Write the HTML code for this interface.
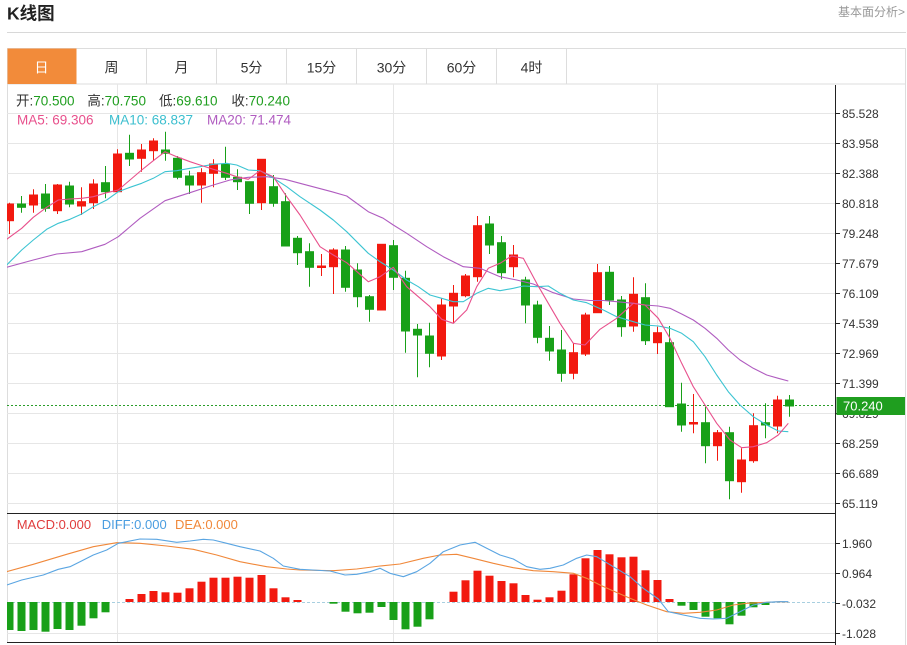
<!DOCTYPE html>
<html><head><meta charset="utf-8">
<style>
html,body{margin:0;padding:0;background:#fff;}
body{width:907px;height:645px;overflow:hidden;}
svg{display:block;font-family:"Liberation Sans","Noto Sans CJK SC",sans-serif;}
</style></head>
<body>
<svg width="907" height="645" viewBox="0 0 907 645" xmlns="http://www.w3.org/2000/svg">
<defs>
<clipPath id="plot"><rect x="7" y="84" width="828" height="430"/></clipPath>
<clipPath id="plot2"><rect x="7" y="514" width="828" height="129"/></clipPath>
</defs>
<!-- header -->
<text x="7" y="19.5" font-size="17.5" font-weight="bold" fill="#222">K线图</text>
<text x="905" y="16" font-size="12" fill="#999" text-anchor="end">基本面分析&gt;</text>
<line x1="7" y1="32.5" x2="906" y2="32.5" stroke="#d8d8d8"/>

<!-- tab bar -->
<rect x="7.5" y="48.5" width="898" height="35.5" fill="#fff" stroke="#ddd"/>
<rect x="7.5" y="48.5" width="69" height="35.5" fill="#f28b3a"/>
<g stroke="#ddd">
<line x1="146.5" y1="48" x2="146.5" y2="84"/>
<line x1="216.5" y1="48" x2="216.5" y2="84"/>
<line x1="286.5" y1="48" x2="286.5" y2="84"/>
<line x1="356.5" y1="48" x2="356.5" y2="84"/>
<line x1="426.5" y1="48" x2="426.5" y2="84"/>
<line x1="496.5" y1="48" x2="496.5" y2="84"/>
<line x1="566.5" y1="48" x2="566.5" y2="84"/>
</g>
<g font-size="14" text-anchor="middle" fill="#333">
<text x="41.5" y="72.5" fill="#fff">日</text>
<text x="111.5" y="72.5">周</text>
<text x="181.5" y="72.5">月</text>
<text x="251.5" y="72.5">5分</text>
<text x="321.5" y="72.5">15分</text>
<text x="391.5" y="72.5">30分</text>
<text x="461.5" y="72.5">60分</text>
<text x="531.5" y="72.5">4时</text>
</g>

<!-- frame -->
<line x1="7.5" y1="84" x2="7.5" y2="643" stroke="#ddd"/>
<line x1="905.5" y1="84" x2="905.5" y2="645" stroke="#ddd"/>

<!-- grid main -->
<g stroke="#e6e6e6">
<line x1="7" y1="113.5" x2="835" y2="113.5"/>
<line x1="7" y1="143.5" x2="835" y2="143.5"/>
<line x1="7" y1="173.5" x2="835" y2="173.5"/>
<line x1="7" y1="203.5" x2="835" y2="203.5"/>
<line x1="7" y1="233.5" x2="835" y2="233.5"/>
<line x1="7" y1="263.5" x2="835" y2="263.5"/>
<line x1="7" y1="293.5" x2="835" y2="293.5"/>
<line x1="7" y1="323.5" x2="835" y2="323.5"/>
<line x1="7" y1="353.5" x2="835" y2="353.5"/>
<line x1="7" y1="383.5" x2="835" y2="383.5"/>
<line x1="7" y1="413.5" x2="835" y2="413.5"/>
<line x1="7" y1="443.5" x2="835" y2="443.5"/>
<line x1="7" y1="473.5" x2="835" y2="473.5"/>
<line x1="7" y1="503.5" x2="835" y2="503.5"/>
<line x1="117.5" y1="84" x2="117.5" y2="643"/>
<line x1="393.5" y1="84" x2="393.5" y2="643"/>
<line x1="657.5" y1="84" x2="657.5" y2="643"/>
<line x1="7" y1="543.5" x2="835" y2="543.5"/>
<line x1="7" y1="573.5" x2="835" y2="573.5"/>
<line x1="7" y1="633.5" x2="835" y2="633.5"/>
</g>

<!-- legend -->
<g font-size="13.5">
<text x="16" y="105.7"><tspan fill="#333">开:</tspan><tspan fill="#1f9e1f">70.500</tspan></text>
<text x="87.4" y="105.7"><tspan fill="#333">高:</tspan><tspan fill="#1f9e1f">70.750</tspan></text>
<text x="159" y="105.7"><tspan fill="#333">低:</tspan><tspan fill="#1f9e1f">69.610</tspan></text>
<text x="231.4" y="105.7"><tspan fill="#333">收:</tspan><tspan fill="#1f9e1f">70.240</tspan></text>
<text x="17" y="124.3" fill="#e8508c">MA5: 69.306</text>
<text x="109" y="124.3" fill="#3cbfcf">MA10: 68.837</text>
<text x="207" y="124.3" fill="#b05cc0">MA20: 71.474</text>
</g>
<g font-size="13">
<text x="16.7" y="529" fill="#e03c3c">MACD:0.000</text>
<text x="101.7" y="529" fill="#4a9de0">DIFF:0.000</text>
<text x="175" y="529" fill="#f0883a">DEA:0.000</text>
</g>

<!-- current price dotted -->
<line x1="7" y1="405.5" x2="835" y2="405.5" stroke="#2a9d2a" stroke-dasharray="2,2"/>

<!-- candles -->
<g clip-path="url(#plot)">
<g stroke="#f2190f" fill="#f2190f">
<line x1="9.5" y1="202.7" x2="9.5" y2="234"/><rect x="5.5" y="204" width="8" height="16.7"/>
<line x1="33.5" y1="189.3" x2="33.5" y2="212.7"/><rect x="29.5" y="195" width="8" height="10"/>
<line x1="57.5" y1="184" x2="57.5" y2="214"/><rect x="53.5" y="185" width="8" height="25.7"/>
<line x1="81.5" y1="187.3" x2="81.5" y2="215"/><rect x="77.5" y="201.7" width="8" height="4.3"/>
<line x1="93.5" y1="179.3" x2="93.5" y2="209"/><rect x="89.5" y="184" width="8" height="18.7"/>
<line x1="117.5" y1="149.3" x2="117.5" y2="191.7"/><rect x="113.5" y="154" width="8" height="37.7"/>
<line x1="141.5" y1="144" x2="141.5" y2="171.7"/><rect x="137.5" y="150" width="8" height="8.3"/>
<line x1="153.5" y1="138.3" x2="153.5" y2="160.7"/><rect x="149.5" y="141" width="8" height="9.7"/>
<line x1="201.5" y1="168.3" x2="201.5" y2="202.7"/><rect x="197.5" y="172.7" width="8" height="12.3"/>
<line x1="213.5" y1="159.3" x2="213.5" y2="187.3"/><rect x="209.5" y="164" width="8" height="9.3"/>
<line x1="261.5" y1="159.3" x2="261.5" y2="210"/><rect x="257.5" y="159.3" width="8" height="43.4"/>
<line x1="321.5" y1="254" x2="321.5" y2="276"/><rect x="317.5" y="266" width="8" height="1.5"/>
<line x1="333.5" y1="248.3" x2="333.5" y2="294"/><rect x="329.5" y="250" width="8" height="16.7"/>
<line x1="381.5" y1="244" x2="381.5" y2="310"/><rect x="377.5" y="244.3" width="8" height="65.7"/>
<line x1="441.5" y1="298.3" x2="441.5" y2="360"/><rect x="437.5" y="305" width="8" height="51"/>
<line x1="453.5" y1="285" x2="453.5" y2="322.7"/><rect x="449.5" y="293.3" width="8" height="12.7"/>
<line x1="465.5" y1="274" x2="465.5" y2="297.3"/><rect x="461.5" y="276" width="8" height="19.7"/>
<line x1="477.5" y1="216" x2="477.5" y2="281.7"/><rect x="473.5" y="225.7" width="8" height="51"/>
<line x1="513.5" y1="245" x2="513.5" y2="277.3"/><rect x="509.5" y="255" width="8" height="11.7"/>
<line x1="573.5" y1="343.3" x2="573.5" y2="379.3"/><rect x="569.5" y="352.7" width="8" height="20.6"/>
<line x1="585.5" y1="312.7" x2="585.5" y2="356"/><rect x="581.5" y="315" width="8" height="39"/>
<line x1="597.5" y1="264" x2="597.5" y2="312.7"/><rect x="593.5" y="272.7" width="8" height="40"/>
<line x1="633.5" y1="277.3" x2="633.5" y2="331.7"/><rect x="629.5" y="294.3" width="8" height="31.7"/>
<line x1="657.5" y1="326.7" x2="657.5" y2="354"/><rect x="653.5" y="332.7" width="8" height="10"/>
<line x1="693.5" y1="394" x2="693.5" y2="433.3"/><rect x="689.5" y="422.5" width="8" height="1.5"/>
<line x1="717.5" y1="430" x2="717.5" y2="460.7"/><rect x="713.5" y="432.7" width="8" height="13"/>
<line x1="741.5" y1="448.3" x2="741.5" y2="492.7"/><rect x="737.5" y="460" width="8" height="21.7"/>
<line x1="753.5" y1="413.3" x2="753.5" y2="462.7"/><rect x="749.5" y="425.7" width="8" height="35"/>
<line x1="777.5" y1="395.7" x2="777.5" y2="433.3"/><rect x="773.5" y="400" width="8" height="26"/>
</g>
<g stroke="#18a018" fill="#18a018">
<line x1="21.5" y1="196" x2="21.5" y2="212.7"/><rect x="17.5" y="204" width="8" height="3.3"/>
<line x1="45.5" y1="184" x2="45.5" y2="211.7"/><rect x="41.5" y="194" width="8" height="14.3"/>
<line x1="69.5" y1="181.7" x2="69.5" y2="207.3"/><rect x="65.5" y="186" width="8" height="18"/>
<line x1="105.5" y1="166" x2="105.5" y2="198.3"/><rect x="101.5" y="182.7" width="8" height="9"/>
<line x1="129.5" y1="134.7" x2="129.5" y2="166"/><rect x="125.5" y="153.3" width="8" height="5.7"/>
<line x1="165.5" y1="131.7" x2="165.5" y2="160.7"/><rect x="161.5" y="150" width="8" height="3.3"/>
<line x1="177.5" y1="156" x2="177.5" y2="179.3"/><rect x="173.5" y="158.3" width="8" height="19"/>
<line x1="189.5" y1="170.7" x2="189.5" y2="194"/><rect x="185.5" y="176" width="8" height="9"/>
<line x1="225.5" y1="146.7" x2="225.5" y2="180"/><rect x="221.5" y="164" width="8" height="13.3"/>
<line x1="237.5" y1="169.3" x2="237.5" y2="190"/><rect x="233.5" y="177.3" width="8" height="4.4"/>
<line x1="249.5" y1="181.7" x2="249.5" y2="214"/><rect x="245.5" y="181.7" width="8" height="21.6"/>
<line x1="273.5" y1="175" x2="273.5" y2="206.7"/><rect x="269.5" y="186.7" width="8" height="16.6"/>
<line x1="285.5" y1="193.3" x2="285.5" y2="246"/><rect x="281.5" y="201.7" width="8" height="44.3"/>
<line x1="297.5" y1="236" x2="297.5" y2="265"/><rect x="293.5" y="238.3" width="8" height="14.4"/>
<line x1="309.5" y1="243.3" x2="309.5" y2="286.7"/><rect x="305.5" y="251.7" width="8" height="15.6"/>
<line x1="345.5" y1="246" x2="345.5" y2="291.7"/><rect x="341.5" y="250" width="8" height="37.3"/>
<line x1="357.5" y1="263.3" x2="357.5" y2="307.3"/><rect x="353.5" y="270" width="8" height="26.7"/>
<line x1="369.5" y1="295" x2="369.5" y2="321.7"/><rect x="365.5" y="296.7" width="8" height="12.6"/>
<line x1="393.5" y1="240" x2="393.5" y2="290"/><rect x="389.5" y="245.7" width="8" height="31.6"/>
<line x1="405.5" y1="270.7" x2="405.5" y2="352.7"/><rect x="401.5" y="278.3" width="8" height="52.7"/>
<line x1="417.5" y1="324" x2="417.5" y2="377.3"/><rect x="413.5" y="329.3" width="8" height="5.7"/>
<line x1="429.5" y1="322.7" x2="429.5" y2="367.3"/><rect x="425.5" y="336" width="8" height="17.3"/>
<line x1="489.5" y1="216" x2="489.5" y2="254"/><rect x="485.5" y="224" width="8" height="21"/>
<line x1="501.5" y1="236" x2="501.5" y2="279.3"/><rect x="497.5" y="242.7" width="8" height="30"/>
<line x1="525.5" y1="276.7" x2="525.5" y2="323.3"/><rect x="521.5" y="280" width="8" height="25"/>
<line x1="537.5" y1="300.7" x2="537.5" y2="343.3"/><rect x="533.5" y="305" width="8" height="32.3"/>
<line x1="549.5" y1="326" x2="549.5" y2="360.7"/><rect x="545.5" y="338.3" width="8" height="12.7"/>
<line x1="561.5" y1="330" x2="561.5" y2="381.7"/><rect x="557.5" y="350" width="8" height="23.3"/>
<line x1="609.5" y1="266" x2="609.5" y2="305"/><rect x="605.5" y="272.3" width="8" height="27.7"/>
<line x1="621.5" y1="296" x2="621.5" y2="336.7"/><rect x="617.5" y="300" width="8" height="26.7"/>
<line x1="645.5" y1="283.3" x2="645.5" y2="345"/><rect x="641.5" y="297.7" width="8" height="43"/>
<line x1="669.5" y1="326" x2="669.5" y2="406.7"/><rect x="665.5" y="342.7" width="8" height="64"/>
<line x1="681.5" y1="382.7" x2="681.5" y2="431.7"/><rect x="677.5" y="404" width="8" height="21"/>
<line x1="705.5" y1="406.7" x2="705.5" y2="463.3"/><rect x="701.5" y="422.7" width="8" height="23"/>
<line x1="729.5" y1="426.7" x2="729.5" y2="499.3"/><rect x="725.5" y="432.7" width="8" height="48"/>
<line x1="765.5" y1="403.3" x2="765.5" y2="438.3"/><rect x="761.5" y="422.7" width="8" height="2.3"/>
<line x1="789.5" y1="395" x2="789.5" y2="416.7"/><rect x="785.5" y="400" width="8" height="6"/>
</g>

<!-- MA lines -->
<g fill="none" stroke-width="1.1" stroke-linejoin="round">
<polyline stroke="#b05cc0" points="6.7,267.3 33.3,260 56.7,254 81.7,251.7 105,244.3 118.3,236.7 140,218.3 165,200.7 190,192.7 213.3,185 230,180 248.3,177.3 266.7,176.7 285,179.3 300,183.3 331.7,191.7 346.7,196 368.3,211.7 383.3,218.3 393.3,225 406.7,233.3 426.7,246.7 443.3,256.7 463.3,266.7 480,268.3 500,276.7 516.7,280 533.3,284 553.3,292.7 573.3,299 590,300.5 603.3,300.5 616.7,301.7 633.3,303.3 645,305 658.3,306 670,308.3 681.7,314 693.3,320 705,328.3 716.7,338.3 728.3,350 740,360 753.3,368.3 766.7,375 778.3,378.3 788.3,381"/>
<polyline stroke="#3cc4d2" points="6.7,265 21.7,250 33.3,240 46.7,229.3 58.3,223.3 70,219.3 81.7,214 93.3,206.7 106.7,200 118.3,191.7 130,187.3 141.7,183.3 153.3,178.3 165,171.7 176.7,170.7 190,168.3 200,166.7 213.3,164.3 226.7,163.3 236.7,165 248.3,170 260,170.7 273.3,178 286.7,186.7 300,196.7 320,210 333.3,220 346.7,231.7 368.3,253.3 380,261.7 393.3,270 406.7,280 418.3,286.7 430,295 441.7,298.3 453.3,301.7 463.3,301.7 476.7,293.3 488.3,288.3 500,290.7 513.3,288.3 523.3,286 536.7,286.7 548.3,286 560,293.3 573.3,300 586.7,302.7 603.3,310 616.7,316.7 633.3,321.7 645,325 658.3,326 670,328.3 681.7,333.3 693.3,341.7 705,356.7 716.7,375 728.3,391.7 740,405 753.3,416.7 766.7,425 778.3,431 788.3,431.7"/>
<polyline stroke="#e8508c" points="6.7,239.3 21.7,228.3 33.3,217.3 46.7,207.3 58.3,200 70,199 81.7,198.3 93.3,196.7 106.7,192.7 118.3,190 130,180 141.7,170 153.3,160.7 165,151.7 176.7,156.7 190,161.7 200,165 213.3,169.3 226.7,173.3 236.7,176.7 248.3,179.3 260,170.7 273.3,176.7 286.7,196.7 300,215 320,246.7 333.3,255 346.7,262.7 368.3,281.7 380,276.7 393.3,267.3 406.7,286.7 418.3,296.7 430,306.7 441.7,319.3 453.3,323.3 466.7,310 476.7,286.7 488.3,268.3 500,263.3 511.7,256 523.3,258.3 536.7,283.3 548.3,303.3 560,323.3 573.3,343.3 585,345 600,329.3 616.7,318.3 633.3,303.3 645,305 658.3,318.3 670,338.3 681.7,363.3 693.3,386.7 705,405 716.7,423.3 730,440 741.7,447.7 753.3,446.7 766.7,442.7 778.3,435 788.3,423.3"/>
</g>
</g>

<!-- MACD panel -->
<line x1="7" y1="602.5" x2="835" y2="602.5" stroke="#a8cfe0" stroke-dasharray="3,2"/>
<g clip-path="url(#plot2)">
<g fill="#18a018">
<rect x="5.5" y="602" width="8" height="28"/>
<rect x="17.5" y="602" width="8" height="29"/>
<rect x="29.5" y="602" width="8" height="28"/>
<rect x="41.5" y="602" width="8" height="29.7"/>
<rect x="53.5" y="602" width="8" height="27"/>
<rect x="65.5" y="602" width="8" height="28"/>
<rect x="77.5" y="602" width="8" height="23.7"/>
<rect x="89.5" y="602" width="8" height="16.3"/>
<rect x="101.5" y="602" width="8" height="10.3"/>
<rect x="329.5" y="602" width="8" height="1.7"/>
<rect x="341.5" y="602" width="8" height="9.7"/>
<rect x="353.5" y="602" width="8" height="11.3"/>
<rect x="365.5" y="602" width="8" height="10.7"/>
<rect x="377.5" y="602" width="8" height="5"/>
<rect x="389.5" y="602" width="8" height="18"/>
<rect x="401.5" y="602" width="8" height="27.3"/>
<rect x="413.5" y="602" width="8" height="24.7"/>
<rect x="425.5" y="602" width="8" height="17.3"/>
<rect x="677.5" y="602" width="8" height="3.7"/>
<rect x="689.5" y="602" width="8" height="8"/>
<rect x="701.5" y="602" width="8" height="14.7"/>
<rect x="713.5" y="602" width="8" height="16.3"/>
<rect x="725.5" y="602" width="8" height="22.3"/>
<rect x="737.5" y="602" width="8" height="13.7"/>
<rect x="749.5" y="602" width="8" height="5.3"/>
<rect x="761.5" y="602" width="8" height="3"/>
</g>
<g fill="#f2190f">
<rect x="125.5" y="599" width="8" height="3"/>
<rect x="137.5" y="594" width="8" height="8"/>
<rect x="149.5" y="591" width="8" height="11"/>
<rect x="161.5" y="592.3" width="8" height="9.7"/>
<rect x="173.5" y="592.7" width="8" height="9.3"/>
<rect x="185.5" y="588.3" width="8" height="13.7"/>
<rect x="197.5" y="581.7" width="8" height="20.3"/>
<rect x="209.5" y="577.7" width="8" height="24.3"/>
<rect x="221.5" y="577.7" width="8" height="24.3"/>
<rect x="233.5" y="576.7" width="8" height="25.3"/>
<rect x="245.5" y="577.7" width="8" height="24.3"/>
<rect x="257.5" y="575" width="8" height="27"/>
<rect x="269.5" y="588.3" width="8" height="13.7"/>
<rect x="281.5" y="597.3" width="8" height="4.7"/>
<rect x="293.5" y="600" width="8" height="2"/>
<rect x="449.5" y="591.7" width="8" height="10.3"/>
<rect x="461.5" y="580.3" width="8" height="21.7"/>
<rect x="473.5" y="570.7" width="8" height="31.3"/>
<rect x="485.5" y="575.7" width="8" height="26.3"/>
<rect x="497.5" y="581" width="8" height="21"/>
<rect x="509.5" y="583.3" width="8" height="18.7"/>
<rect x="521.5" y="595" width="8" height="7"/>
<rect x="533.5" y="599.7" width="8" height="2.3"/>
<rect x="545.5" y="597.3" width="8" height="4.7"/>
<rect x="557.5" y="590.7" width="8" height="11.3"/>
<rect x="569.5" y="574.3" width="8" height="27.7"/>
<rect x="581.5" y="558.3" width="8" height="43.7"/>
<rect x="593.5" y="550" width="8" height="52"/>
<rect x="605.5" y="554.3" width="8" height="47.7"/>
<rect x="617.5" y="557.3" width="8" height="44.7"/>
<rect x="629.5" y="556.7" width="8" height="45.3"/>
<rect x="641.5" y="570.3" width="8" height="31.7"/>
<rect x="653.5" y="580" width="8" height="22"/>
<rect x="665.5" y="599" width="8" height="3"/>
</g>
<g fill="none" stroke-width="1.1" stroke-linejoin="round">
<polyline stroke="#f0883a" points="6.7,571.7 33.3,564.3 66.7,554.3 93.3,546.7 116.7,542.7 140,543.3 166.7,546 193.3,549.3 216.7,555 240,561.7 266.7,566.7 286.7,569 300,570 333.3,570.7 356.7,569 380,566 400,564 423.3,558.3 440,555 456.7,554.3 473.3,558.3 493.3,563.3 513.3,567.7 533.3,570.7 553.3,571.7 573.3,573.3 586.7,578.3 600,585 613.3,591 630,598.3 646.7,605 666.7,611.7 683.3,613.3 700,612.3 716.7,610 733.3,605 746.7,603.3 766.7,602.3 780,601.7 788.3,602"/>
<polyline stroke="#5aa5e2" points="6.7,585 21.7,580 43.3,575 58.3,569.3 70,566.7 80,561.7 93.3,555 106.7,550 118.3,543.3 140,539 156.7,539.3 176.7,542.3 190,541 203.3,539.3 213.3,540 226.7,543.3 240,546.7 260,551 273.3,558.3 283.3,566 300,569.3 330,571 345,575 356.7,574.3 370,571.7 380,568.3 390,573.3 403.3,576.7 416.7,571.7 430,563.3 443.3,551.7 460,545 475,542.3 486.7,548.3 500,555 513.3,559 526.7,566.7 540,569.3 550,568.3 563.3,565 576.7,558.3 586.7,555 596.7,556.7 613.3,566.7 630,576.7 643.3,588.3 658.3,599 668.3,611.7 683.3,615 700,618.3 713.3,619 726.7,618.3 740,611.7 753.3,605 766.7,602.3 780,601.7 788.3,601.7"/>
</g>
</g>

<!-- panel borders -->
<line x1="7" y1="513.5" x2="836" y2="513.5" stroke="#222"/>
<line x1="7" y1="642.5" x2="836" y2="642.5" stroke="#222"/>
<line x1="835.5" y1="85" x2="835.5" y2="645" stroke="#222"/>

<!-- axis ticks & labels -->
<g stroke="#222">
<line x1="836" y1="113.5" x2="840" y2="113.5"/>
<line x1="836" y1="143.5" x2="840" y2="143.5"/>
<line x1="836" y1="173.5" x2="840" y2="173.5"/>
<line x1="836" y1="203.5" x2="840" y2="203.5"/>
<line x1="836" y1="233.5" x2="840" y2="233.5"/>
<line x1="836" y1="263.5" x2="840" y2="263.5"/>
<line x1="836" y1="293.5" x2="840" y2="293.5"/>
<line x1="836" y1="323.5" x2="840" y2="323.5"/>
<line x1="836" y1="353.5" x2="840" y2="353.5"/>
<line x1="836" y1="383.5" x2="840" y2="383.5"/>
<line x1="836" y1="413.5" x2="840" y2="413.5"/>
<line x1="836" y1="443.5" x2="840" y2="443.5"/>
<line x1="836" y1="473.5" x2="840" y2="473.5"/>
<line x1="836" y1="503.5" x2="840" y2="503.5"/>
<line x1="836" y1="543.5" x2="840" y2="543.5"/>
<line x1="836" y1="573.5" x2="840" y2="573.5"/>
<line x1="836" y1="603.5" x2="840" y2="603.5"/>
<line x1="836" y1="633.5" x2="840" y2="633.5"/>
</g>
<g font-size="12" fill="#333">
<text x="842" y="117.8">85.528</text>
<text x="842" y="147.8">83.958</text>
<text x="842" y="177.8">82.388</text>
<text x="842" y="207.8">80.818</text>
<text x="842" y="237.8">79.248</text>
<text x="842" y="267.8">77.679</text>
<text x="842" y="297.8">76.109</text>
<text x="842" y="327.8">74.539</text>
<text x="842" y="357.8">72.969</text>
<text x="842" y="387.8">71.399</text>
<text x="842" y="417.8">69.829</text>
<text x="842" y="447.8">68.259</text>
<text x="842" y="477.8">66.689</text>
<text x="842" y="507.8">65.119</text>
<text x="842" y="547.8">1.960</text>
<text x="842" y="577.8">0.964</text>
<text x="842" y="607.8">-0.032</text>
<text x="842" y="637.8">-1.028</text>
</g>
<rect x="836.5" y="397" width="68.5" height="18" fill="#1f9e1f"/>
<text x="843" y="410.5" font-size="13" fill="#fff">70.240</text>
</svg>
</body></html>
